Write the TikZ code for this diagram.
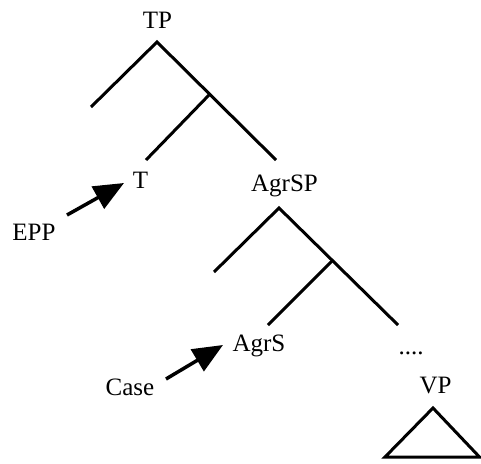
\documentclass[tikz,border=0pt]{standalone}
\usepackage{fontspec}
\setmainfont{Liberation Serif}
\usetikzlibrary{arrows.meta}
\begin{document}
\begin{tikzpicture}[x=1pt,y=-1pt,
  lbl/.style={anchor=base,inner sep=0pt,font=\fontsize{25}{30}\selectfont},
  branch/.style={line width=3pt,line join=miter},
  feat/.style={line width=3.5pt,-{Triangle[length=30pt,width=25pt]}}]
\useasboundingbox (0,0) rectangle (481,463);
% labels
\node[lbl] (TP) at (157.5,28) {TP};
\node[lbl] (T) at (140.5,188) {T};
\node[lbl] (AgrSP) at (284.5,191.5) {AgrSP};
\node[lbl] (EPP) at (34,240) {EPP};
\node[lbl] (AgrS) at (259,351.5) {AgrS};
\node[lbl] (Case) at (130,395) {Case};
\node[lbl] (dots) at (411,354) {....};
\node[lbl] (VP) at (435.5,393) {VP};
% tree points
\coordinate (a1) at (157,42);
\coordinate (l1) at (91,107);
\coordinate (b1) at (209,95);
\coordinate (r1) at (276,160);
\coordinate (t1) at (146,160);
\coordinate (a2) at (279,208);
\coordinate (l2) at (214,272);
\coordinate (b2) at (332,261);
\coordinate (r2) at (398,325);
\coordinate (t2) at (268,325);
\coordinate (va) at (433,408);
\coordinate (vl) at (385,457);
\coordinate (vr) at (479.5,457);
% arrow points
\coordinate (e0) at (67,215);
\coordinate (e1) at (124,183);
\coordinate (c0) at (166,379);
\coordinate (c1) at (223,345);
% branches
\draw[branch] (l1) -- (a1) -- (r1);
\draw[branch] (b1) -- (t1);
\draw[branch] (l2) -- (a2) -- (r2);
\draw[branch] (b2) -- (t2);
\draw[branch] (va) -- (vr) -- (vl) -- cycle;
% feature arrows
\draw[feat] (e0) -- (e1);
\draw[feat] (c0) -- (c1);
\end{tikzpicture}
\end{document}
